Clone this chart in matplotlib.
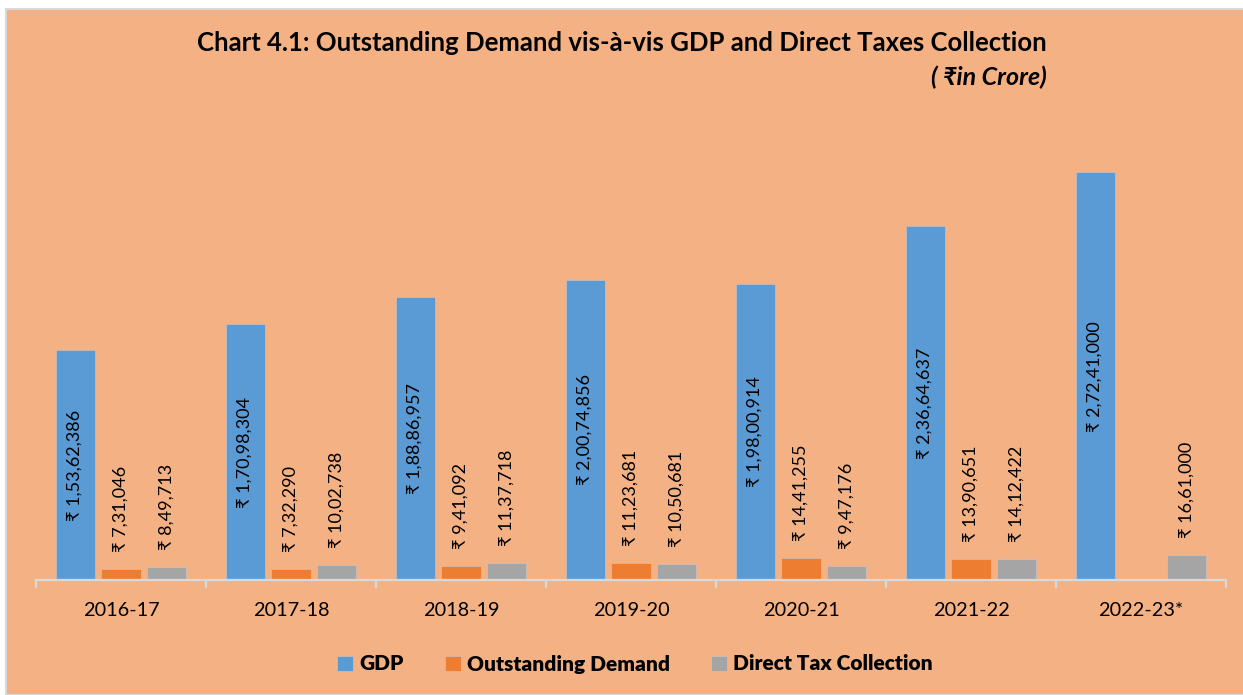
import numpy as np
import matplotlib.pyplot as plt
from matplotlib.patches import Rectangle

years = ['2016-17', '2017-18', '2018-19', '2019-20', '2020-21', '2021-22', '2022-23*']
gdp = [15362386, 17098304, 18886957, 20074856, 19800914, 23664637, 27241000]
outstanding = [731046, 732290, 941092, 1123681, 1441255, 1390651, np.nan]
direct_tax = [849713, 1002738, 1137718, 1050681, 947176, 1412422, 1661000]

bg = '#F4B183'
colors = ['#5B9BD5', '#ED7D31', '#A5A5A5']
fonts = ['Lato', 'DejaVu Sans']
plt.rcParams['font.family'] = fonts


def indian(n):
    s = str(int(n))
    if len(s) <= 3:
        return s
    head, tail = s[:-3], s[-3:]
    parts = []
    while len(head) > 2:
        parts.insert(0, head[-2:])
        head = head[:-2]
    if head:
        parts.insert(0, head)
    return ','.join(parts) + ',' + tail


fig = plt.figure(figsize=(12.43, 6.95), dpi=100)
fig.patch.set_facecolor('white')
fig.patches.append(Rectangle((6 / 1243, 0), 1, 1 - 9 / 695, transform=fig.transFigure,
                             facecolor=bg, edgecolor='#D9D9D9', linewidth=1.5, zorder=-1))

ax = fig.add_axes([36 / 1243, 115 / 695, 1190 / 1243, 449 / 695])
ax.set_facecolor('none')

x = np.arange(len(years))
w = 0.23
off = 0.27
series = [gdp, outstanding, direct_tax]
names = ['GDP', 'Outstanding Demand', 'Direct Tax Collection']
for i, (vals, name) in enumerate(zip(series, names)):
    pos = x + (i - 1) * off
    ax.bar(pos, vals, width=w, color=colors[i], label=name, edgecolor='#C9C9C9', linewidth=0.4)
    for p, v in zip(pos, vals):
        if np.isnan(v):
            continue
        label = '\u20b9 ' + indian(v)
        if i == 0:
            ax.text(p, v / 2, label, rotation=90, ha='center', va='center', fontsize=13)
        else:
            ax.annotate(label, (p, v), xytext=(0, 17), textcoords='offset pixels',
                        rotation=90, ha='center', va='bottom', fontsize=13)

ax.set_xlim(-0.5, len(years) - 0.5)
ax.set_ylim(0, 30000000)
ax.set_yticks([])
for s in ['top', 'right', 'left']:
    ax.spines[s].set_visible(False)
ax.spines['bottom'].set_color('#D9D9D9')
ax.spines['bottom'].set_linewidth(1.6)
ax.set_xticks(x)
ax.set_xticklabels(years, fontsize=14.3)
ax.tick_params(axis='x', which='major', length=0, pad=16)
ax.set_xticks(np.arange(-0.5, len(years)), minor=True)
ax.tick_params(axis='x', which='minor', length=6, width=1.6, color='#D9D9D9')

fig.text(1047 / 1243, 1 - 43 / 695, 'Chart 4.1: Outstanding Demand vis-\u00e0-vis GDP and Direct Taxes Collection',
         ha='right', va='center', fontsize=18.5, fontweight='bold')
fig.text(1047 / 1243, 1 - 77 / 695, '( \u20b9in Crore)', ha='right', va='center',
         fontsize=18, fontweight='bold', fontstyle='italic')

ax.legend(loc='center', bbox_to_anchor=(635 / 1243, 1 - 664 / 695), bbox_transform=fig.transFigure,
          ncol=3, frameon=False, handlelength=0.75, handleheight=0.75, handletextpad=0.3,
          columnspacing=2.0, prop={'weight': 'heavy', 'size': 15, 'family': fonts})

fig.savefig('out.png', dpi=100, facecolor=fig.get_facecolor())
